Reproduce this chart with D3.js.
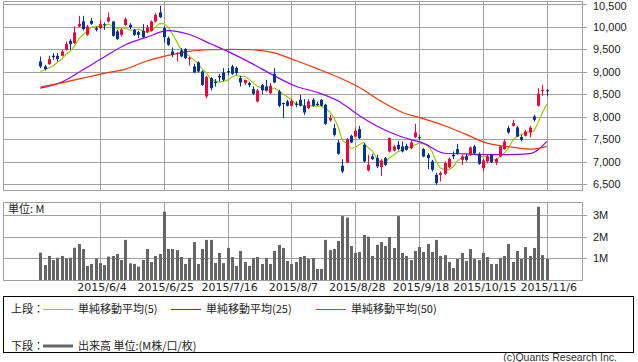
<!DOCTYPE html>
<html>
<head>
<meta charset="utf-8">
<script src="https://cdn.jsdelivr.net/npm/d3@7"></script>
<style>
body { margin: 0; background: #fff; }
svg { display: block; }
</style>
</head>
<body>
<script>
const WIDTH = 638;
const HEIGHT = 362;

// trading days 2015/5/15 - 2015/11/6 (month, days)
const tradingDays = [
  [5, [15,18,19,20,21,22,25,26,27,28,29]],
  [6, [1,2,3,4,5,8,9,10,11,12,15,16,17,18,19,22,23,24,25,26,29,30]],
  [7, [1,2,3,6,7,8,9,10,13,14,15,16,17,21,22,23,24,27,28,29,30,31]],
  [8, [3,4,5,6,7,10,11,12,13,14,17,18,19,20,21,24,25,26,27,28,31]],
  [9, [1,2,3,4,7,8,9,10,11,14,15,16,17,18,24,25,28,29,30]],
  [10, [1,2,5,6,7,8,9,13,14,15,16,19,20,21,22,23,26,27,28,29,30]],
  [11, [2,4,5,6]]
];
const dates = tradingDays.flatMap(([m, ds]) => ds.map(d => `2015/${m}/${d}`));

const tickDates = ['2015/6/4','2015/6/25','2015/7/16','2015/8/7','2015/8/28','2015/9/18','2015/10/15','2015/11/6'];
const priceTicks = [6500, 7000, 7500, 8000, 8500, 9000, 9500, 10000, 10500];
const volTicks = [1, 2, 3];

const opens = [
  9230, 9119, 9170, 9356, 9356, 9356, 9489, 9689, 9637, 10007,
  10119, 9822, 10133, 9970, 9970, 10059, 10119, 10119, 9896, 9822,
  10044, 10044, 9933, 9881, 9911, 9881, 9911, 10119, 10319, 9970,
  9748, 9452, 9400, 9474, 9504, 9290, 9119, 9207, 9007, 8452,
  8859, 8778, 8911, 8985, 9015, 9119, 9082, 8859, 8748, 8748,
  8615, 8341, 8705, 8674, 8526, 8956, 8563, 8304, 8341, 8245,
  8289, 8378, 8245, 8193, 8378, 8289, 8378, 8267, 7919, 7748,
  7430, 6911, 6985, 7578, 7563, 7726, 7378, 6808, 7119, 7082,
  6882, 7082, 7230, 7252, 7378, 7341, 7356, 7304, 7548, 7548,
  7282, 7156, 7008, 6711, 6711, 6733, 6882, 7156, 7282, 7044,
  7119, 7156, 7341, 7178, 6859, 7008, 7156, 6985, 7119, 7282,
  7748, 7800, 7763, 7548, 7578, 7650, 8007, 8245, 8585, 8590
];
const highs = [
  9341, 9156, 9356, 9415, 9415, 9489, 9674, 9726, 10007, 10244,
  10244, 10044, 10193, 10007, 10156, 10096, 10319, 10119, 9933, 9970,
  10207, 10081, 9948, 9911, 10059, 10044, 10141, 10304, 10467, 10007,
  9785, 9541, 9430, 9526, 9526, 9330, 9178, 9230, 9030, 8911,
  8881, 8837, 8956, 9082, 9082, 9156, 9119, 8911, 8822, 8785,
  8674, 8615, 8730, 8822, 8748, 9082, 8600, 8319, 8378, 8393,
  8341, 8489, 8393, 8393, 8415, 8341, 8393, 8289, 8044, 7844,
  7489, 7059, 7526, 7600, 7763, 7800, 7415, 7156, 7178, 7156,
  7059, 7104, 7541, 7378, 7467, 7452, 7400, 7504, 7844, 7600,
  7304, 7193, 7044, 6748, 6785, 7008, 7096, 7230, 7400, 7156,
  7178, 7341, 7378, 7208, 7059, 7156, 7178, 7082, 7356, 7504,
  7800, 7933, 7800, 7600, 7711, 7800, 8044, 8637, 8711, 8615
];
const lows = [
  9082, 9030, 9156, 9267, 9230, 9341, 9474, 9489, 9622, 9993,
  9919, 9800, 10044, 9896, 9948, 9933, 10096, 9785, 9711, 9785,
  10022, 9948, 9800, 9748, 9748, 9859, 9896, 10096, 10193, 9652,
  9578, 9326, 9230, 9326, 9282, 9140, 8970, 8985, 8689, 8415,
  8585, 8674, 8785, 8785, 8933, 8933, 8933, 8674, 8711, 8659,
  8489, 8319, 8505, 8563, 8504, 8748, 8215, 7970, 8230, 8230,
  8215, 8230, 8044, 8170, 8230, 8245, 8230, 7822, 7896, 7563,
  7156, 6748, 6970, 7415, 7548, 7504, 6985, 6785, 7044, 6859,
  6689, 6911, 7208, 7230, 7252, 7208, 7252, 7282, 7526, 7489,
  7104, 6837, 6785, 6489, 6563, 6711, 6859, 7059, 7156, 6933,
  7008, 7134, 7156, 6933, 6785, 6970, 6970, 6933, 7104, 7267,
  7622, 7785, 7548, 7452, 7563, 7548, 7896, 8230, 8467, 8452
];
const closes = [
  9119, 9059, 9282, 9326, 9282, 9452, 9615, 9615, 9874, 10067,
  9948, 10007, 10067, 9933, 10059, 10037, 10207, 9800, 9726, 9933,
  10170, 9993, 9822, 9822, 9770, 9985, 10119, 10267, 10215, 9770,
  9600, 9378, 9415, 9341, 9304, 9310, 8985, 9007, 8711, 8881,
  8637, 8748, 8874, 8822, 8990, 8956, 8970, 8763, 8822, 8704,
  8511, 8585, 8590, 8585, 8689, 8763, 8245, 8289, 8245, 8356,
  8267, 8245, 8096, 8341, 8245, 8260, 8245, 7844, 7970, 7600,
  7178, 6785, 7504, 7430, 7689, 7526, 7008, 6933, 7059, 6896,
  7030, 6933, 7526, 7341, 7282, 7230, 7267, 7430, 7652, 7526,
  7119, 7082, 6822, 6526, 6748, 6970, 7067, 7119, 7178, 7119,
  7044, 7319, 7193, 6956, 7030, 7119, 6993, 7059, 7341, 7452,
  7652, 7859, 7563, 7489, 7674, 7760, 7933, 8511, 8600, 8575
];
// volume, millions
const volumes = [
  1.26, 0.69, 1.11, 0.92, 1.03, 1.11, 1.0, 1.03, 1.49, 1.66,
  1.43, 0.65, 0.74, 1.0, 0.78, 0.69, 1.08, 1.11, 1.2, 0.92,
  1.85, 0.77, 0.74, 0.62, 0.92, 1.43, 0.83, 1.11, 1.2, 3.15,
  1.43, 1.43, 1.38, 1.06, 0.74, 1.02, 1.75, 0.74, 1.43, 1.85,
  1.85, 0.78, 1.25, 0.78, 1.48, 1.06, 0.65, 1.34, 0.83, 0.65,
  1.02, 1.06, 0.74, 1.02, 0.74, 1.34, 1.62, 1.48, 0.88, 0.74,
  0.83, 1.06, 1.11, 0.97, 1.02, 0.51, 0.51, 1.85, 1.38, 1.43,
  1.8, 2.95, 2.88, 1.57, 1.25, 1.29, 2.08, 2.0, 1.11, 1.62,
  1.75, 1.57, 1.98, 1.48, 2.95, 1.25, 1.11, 0.92, 1.34, 1.52,
  1.29, 1.66, 1.29, 1.85, 1.11, 1.15, 0.83, 0.55, 0.97, 1.25,
  0.88, 1.43, 0.97, 0.92, 1.25, 1.06, 0.74, 0.74, 1.02, 1.11,
  1.66, 0.83, 1.34, 0.97, 1.52, 1.11, 1.48, 3.38, 1.15, 0.97
];

// moving averages: first 4 of ma5 (need earlier closes)
const ma5Head = [9010, 9040, 9090, 9130];
const maIndex = [0,5,10,15,20,25,30,35,40,45,50,55,60,65,70,75,80,85,90,95,100,105,110,115,117,119];
const ma25Vals = [8637,8770,9044,9330,9600,9770,9915,9830,9622,9410,9170,8910,8680,8545,8350,8025,7750,7550,7415,7190,7175,7160,7160,7180,7267,7452];
const ma50Vals = [8659,8755,8860,8965,9060,9240,9365,9455,9490,9500,9490,9420,9250,9070,8880,8650,8350,8100,7960,7800,7610,7415,7335,7281,7300,7341];

const RED = '#f0003c';
const BLUE = '#003399';
const GRID = '#a0a0a0';
const C5 = '#99cc00', C25 = '#9900ff', C50 = '#ff3300';

const svg = d3.select('body')
    .append('svg')
    .attr('width', WIDTH)
    .attr('height', HEIGHT);

const PLOT = {left: 3, right: 582, top: 1, bottom: 190};
const VOL = {left: 3, right: 582, top: 202, bottom: 280};

const x = d3.scalePoint().domain(dates).range([40.4, 546.7]);
const y = d3.scaleLinear().domain([6500, 10500]).range([184.3, 4.3]);
const yv = d3.scaleLinear().domain([0, 3]).range([280, 215]);

const px = v => Math.round(v) + 0.5;

// ---- grids + borders
const grid = svg.append('g').attr('stroke', GRID).attr('stroke-width', 1).attr('fill', 'none');

grid.selectAll('.hp').data(priceTicks).join('line')
    .attr('x1', PLOT.left).attr('x2', PLOT.right + 5)
    .attr('y1', d => px(y(d))).attr('y2', d => px(y(d)));
grid.selectAll('.vp').data(tickDates).join('line')
    .attr('x1', d => px(x(d))).attr('x2', d => px(x(d)))
    .attr('y1', PLOT.top).attr('y2', PLOT.bottom);
grid.append('rect')
    .attr('x', PLOT.left + 0.5).attr('y', PLOT.top + 0.5)
    .attr('width', PLOT.right - PLOT.left).attr('height', PLOT.bottom - PLOT.top);

grid.selectAll('.hv').data(volTicks).join('line')
    .attr('x1', VOL.left).attr('x2', VOL.right + 5)
    .attr('y1', d => px(yv(d))).attr('y2', d => px(yv(d)));
grid.selectAll('.vv').data(tickDates).join('line')
    .attr('x1', d => px(x(d))).attr('x2', d => px(x(d)))
    .attr('y1', VOL.top).attr('y2', VOL.bottom);
grid.append('rect')
    .attr('x', VOL.left + 0.5).attr('y', VOL.top + 0.5)
    .attr('width', VOL.right - VOL.left).attr('height', VOL.bottom - VOL.top);

// ---- right axis labels
const lab = svg.append('g')
    .attr('font-family', '"Liberation Sans", Arial, sans-serif')
    .attr('font-size', 11).attr('fill', '#222');
lab.selectAll('.pl').data(priceTicks).join('text')
    .attr('x', 593).attr('y', d => Math.max(y(d) + 4, 10))
    .text(d => d3.format(',')(d));
lab.selectAll('.vl').data(volTicks).join('text')
    .attr('x', 593).attr('y', d => yv(d) + 4)
    .text(d => d + 'M');

// ---- x labels
svg.append('g')
    .attr('font-family', '"DejaVu Sans", sans-serif')
    .attr('font-size', 11).attr('fill', '#222')
    .attr('text-anchor', 'middle')
    .selectAll('text').data(tickDates).join('text')
    .attr('x', d => x(d) + 2).attr('y', 291)
    .text(d => d);

// ---- volume bars
svg.append('g').attr('fill', '#666')
    .selectAll('rect').data(volumes).join('rect')
    .attr('x', (d, i) => Math.round(x(dates[i])) - 1)
    .attr('width', 3)
    .attr('y', d => yv(d))
    .attr('height', d => VOL.bottom - yv(d));

svg.append('text')
    .attr('x', 8).attr('y', 213)
    .attr('font-family', '"Noto Sans CJK JP", sans-serif')
    .attr('font-size', 11).attr('fill', '#222')
    .text('単位: M');

// ---- moving averages
const ma5 = closes.map((c, i) => i < 4 ? ma5Head[i] : d3.mean(closes.slice(i - 4, i + 1)));

const lineIdx = d3.line()
    .x(d => x(dates[d[0]]))
    .y(d => y(d[1]));

svg.append('path')
    .attr('d', d3.line().x((d, i) => x(dates[i])).y(d => y(d))(ma5))
    .attr('fill', 'none').attr('stroke', C5).attr('stroke-width', 1.2);
svg.append('path')
    .attr('d', lineIdx.curve(d3.curveMonotoneX)(maIndex.map((k, j) => [k, ma25Vals[j]])))
    .attr('fill', 'none').attr('stroke', C25).attr('stroke-width', 1.2);
svg.append('path')
    .attr('d', lineIdx.curve(d3.curveMonotoneX)(maIndex.map((k, j) => [k, ma50Vals[j]])))
    .attr('fill', 'none').attr('stroke', C50).attr('stroke-width', 1.2);

// ---- candles
const candles = svg.append('g');
dates.forEach((d, i) => {
    const cx = Math.round(x(d));
    const col = closes[i] >= opens[i] ? RED : BLUE;
    candles.append('line')
        .attr('x1', cx + 0.5).attr('x2', cx + 0.5)
        .attr('y1', y(highs[i])).attr('y2', y(lows[i]))
        .attr('stroke', col).attr('stroke-width', 1);
    const top = y(Math.max(opens[i], closes[i]));
    const bot = y(Math.min(opens[i], closes[i]));
    candles.append('rect')
        .attr('x', cx - 1).attr('width', 3)
        .attr('y', top).attr('height', Math.max(1, bot - top))
        .attr('fill', col);
});

// ---- legend
const leg = svg.append('g')
    .attr('font-family', '"Noto Sans CJK JP", sans-serif')
    .attr('font-size', 11).attr('fill', '#222');
leg.append('rect')
    .attr('x', 3.5).attr('y', 296.5).attr('width', 630).attr('height', 56)
    .attr('fill', 'none').attr('stroke', '#000');

const legendItems = [
    {x: 43, color: C5, label: '単純移動平均(5)'},
    {x: 171, color: C25, label: '単純移動平均(25)'},
    {x: 316, color: C50, label: '単純移動平均(50)'}
];
leg.append('text').attr('x', 11).attr('y', 313).text('上段：');
legendItems.forEach(it => {
    leg.append('line')
        .attr('x1', it.x).attr('x2', it.x + 30).attr('y1', 309.5).attr('y2', 309.5)
        .attr('stroke', it.color).attr('stroke-width', 1);
    leg.append('text').attr('x', it.x + 35).attr('y', 313).text(it.label);
});
leg.append('text').attr('x', 11).attr('y', 350).text('下段：');
leg.append('line')
    .attr('x1', 43).attr('x2', 73).attr('y1', 346).attr('y2', 346)
    .attr('stroke', '#666').attr('stroke-width', 3);
leg.append('text').attr('x', 78).attr('y', 350).text('出来高 単位:(M株/口/枚)');

svg.append('text')
    .attr('x', 617).attr('y', 361)
    .attr('text-anchor', 'end')
    .attr('font-family', '"Liberation Sans", Arial, sans-serif')
    .attr('font-size', 10.5).attr('fill', '#333')
    .text('(c)Quants Research Inc.');
</script>
</body>
</html>
